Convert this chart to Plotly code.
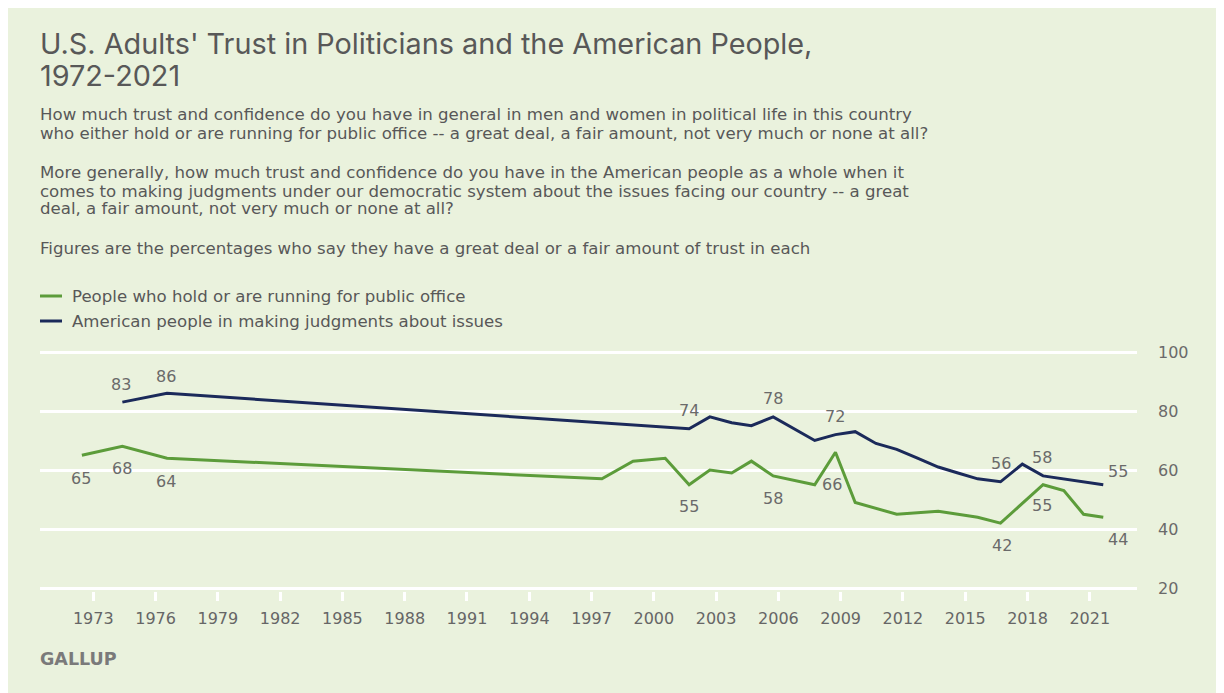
import plotly.graph_objects as go

# ---------------- data ----------------
office_years = [1972.45, 1974.4, 1976.55, 1997.5, 1999.0, 2000.55, 2001.7, 2002.7, 2003.75,
                2004.7, 2005.75, 2007.75, 2008.75, 2009.7, 2011.7, 2013.7, 2015.6, 2016.7,
                2018.75, 2019.75, 2020.7, 2021.65]
office_pct = [65, 68, 64, 57, 63, 64, 55, 60, 59, 63, 58, 55, 66, 49, 45, 46, 44, 42, 55, 53, 45, 44]

people_years = [1974.4, 1976.55, 2001.7, 2002.7, 2003.75, 2004.7, 2005.75, 2007.75, 2008.75,
                2009.7, 2010.7, 2011.7, 2012.7, 2013.7, 2014.65, 2015.6, 2016.7, 2017.75,
                2018.75, 2019.75, 2020.7, 2021.65]
people_pct = [83, 86, 74, 78, 76, 75, 78, 70, 72, 73, 69, 67, 64, 61, 59, 57, 56, 62, 58, 57, 56, 55]

series_names = ["People who hold or are running for public office",
                "American people in making judgments about issues"]
x_tick_years = list(range(1973, 2022, 3))
y_ticks = [20, 40, 60, 80, 100]

title_lines = ["U.S. Adults' Trust in Politicians and the American People,", "1972-2021"]
subtitle_lines = [
    "How much trust and confidence do you have in general in men and women in political life in this country",
    "who either hold or are running for public office -- a great deal, a fair amount, not very much or none at all?",
    "More generally, how much trust and confidence do you have in the American people as a whole when it",
    "comes to making judgments under our democratic system about the issues facing our country -- a great",
    "deal, a fair amount, not very much or none at all?",
    "Figures are the percentages who say they have a great deal or a fair amount of trust in each",
]
source_text = "GALLUP"

# ---------------- style ----------------
W, H = 1224, 693
OFF = 8  # page body margin
PX_PER_UNIT = 2.95
PAD = 3  # px of extra room so the 20 and 100 gridlines are drawn
# plot area in page pixels
P_L, P_R, P_T, P_B = 40, 1137, 352 - PAD, 588 + PAD
ML, MT = P_L - OFF, P_T - OFF
MR, MB = W - (P_R - OFF), H - (P_B - OFF)
PW, PH = P_R - P_L, P_B - P_T
BG = "#EAF2DD"
GREEN = "#5C9C3A"
NAVY = "#1B2A5A"
TEXT = "#585858"
LABEL = "#6A6A6A"
TFONT = "Inter, 'Open Sans', Arial, sans-serif"
BFONT = "'DejaVu Sans', Verdana, sans-serif"
BODY_SIZE = 16.6


def px(x):
    return (x - P_L) / PW


def py(y):
    return (P_B - y) / PH


fig = go.Figure()
fig.add_trace(go.Scatter(x=office_years, y=office_pct, mode="lines", name=series_names[0],
                         line=dict(color=GREEN, width=3), showlegend=False, hoverinfo="x+y"))
fig.add_trace(go.Scatter(x=people_years, y=people_pct, mode="lines", name=series_names[1],
                         line=dict(color=NAVY, width=3), showlegend=False, hoverinfo="x+y"))

annotations = []
shapes = []

# title
title_centers = [44, 76]
for t, yc in zip(title_lines, title_centers):
    annotations.append(dict(text=t, xref="paper", yref="paper", x=px(38), y=py(yc),
                            xanchor="left", yanchor="middle", showarrow=False,
                            font=dict(family=TFONT, size=28.8, color=TEXT)))
sub_centers = [114, 133, 172, 191, 209, 248]
for t, yc in zip(subtitle_lines, sub_centers):
    annotations.append(dict(text=t, xref="paper", yref="paper", x=px(38), y=py(yc),
                            xanchor="left", yanchor="middle", showarrow=False,
                            font=dict(family=BFONT, size=BODY_SIZE, color=TEXT)))

# legend (manual)
leg_centers = [296, 321]
for name, col, yc in zip(series_names, [GREEN, NAVY], leg_centers):
    shapes.append(dict(type="line", xref="paper", yref="paper", x0=px(40), x1=px(62),
                       y0=py(yc), y1=py(yc), line=dict(color=col, width=3)))
    annotations.append(dict(text=name, xref="paper", yref="paper", x=px(70), y=py(yc),
                            xanchor="left", yanchor="middle", showarrow=False,
                            font=dict(family=BFONT, size=BODY_SIZE, color=TEXT)))

# source
annotations.append(dict(text="<b>" + source_text + "</b>", xref="paper", yref="paper", x=px(38), y=py(659),
                        xanchor="left", yanchor="middle", showarrow=False,
                        font=dict(family=BFONT, size=17.5, color="#7A7A7A")))

# data labels: index -> (xshift, yshift)
office_label_pos = {0: (-1, -23), 1: (0, -22), 2: (-1, -23), 6: (0, -22), 10: (0, -23),
                    12: (-3, -32), 17: (1, -22), 18: (-1, -21), 21: (15, -22)}
people_label_pos = {0: (-1, 18), 1: (-1, 17), 2: (0, 18), 6: (0, 18), 8: (0, 18),
                    16: (0, 18), 18: (-1, 18), 21: (15, 13)}
for xs, ys, pos in [(office_years, office_pct, office_label_pos),
                    (people_years, people_pct, people_label_pos)]:
    for i, (dx, dy) in pos.items():
        annotations.append(dict(text=str(ys[i]), x=xs[i], y=ys[i], xref="x", yref="y",
                                xshift=dx, yshift=dy, showarrow=False,
                                xanchor="center", yanchor="middle",
                                font=dict(family=BFONT, size=16, color=LABEL)))

x0_year = 1973 - (93.3 - P_L) / 20.76
x1_year = 1973 + (P_R - 93.3) / 20.76
pad_units = PAD / PX_PER_UNIT

fig.update_layout(
    width=W, height=H,
    margin=dict(l=ML, r=MR, t=MT, b=MB, autoexpand=False),
    paper_bgcolor=BG,
    plot_bgcolor=BG,
    showlegend=False,
    annotations=annotations,
    shapes=shapes,
    font=dict(family=BFONT, color=TEXT),
    xaxis=dict(range=[x0_year, x1_year], tickmode="array", tickvals=x_tick_years,
               ticktext=[str(v) for v in x_tick_years], showgrid=False, zeroline=False,
               showline=False, ticks="outside", ticklen=9, tickwidth=3, tickcolor="white",
               ticklabelstandoff=4,
               tickfont=dict(family=BFONT, size=16, color="#666666"), fixedrange=True),
    yaxis=dict(range=[20 - pad_units, 100 + pad_units], side="right", tickmode="array",
               tickvals=y_ticks,
               showgrid=True, gridcolor="white", gridwidth=3, zeroline=False, showline=False,
               ticks="", ticklabelstandoff=20,
               tickfont=dict(family=BFONT, size=16, color="#6A6A6A"), fixedrange=True),
)

fig.write_html("out.html")
